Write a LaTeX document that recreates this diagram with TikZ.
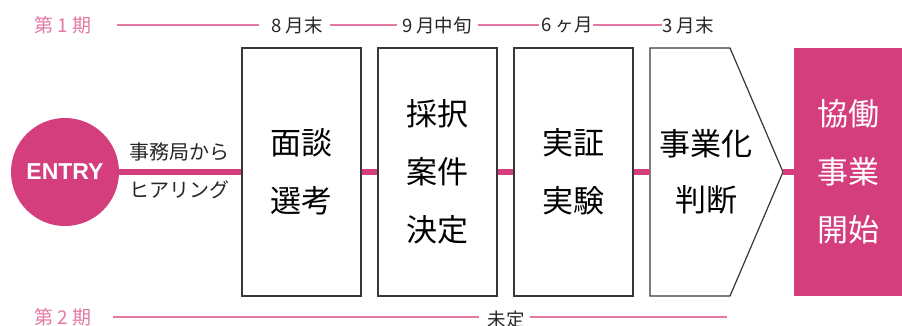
\documentclass[tikz,border=0pt]{standalone}
\usepackage{fontspec}
\setmainfont{Liberation Serif}
\newfontfamily\jp{Noto Sans CJK JP}
\newfontfamily\en{Liberation Sans}
\definecolor{pk}{RGB}{213,62,125}
\definecolor{pkl}{RGB}{228,120,165}
\definecolor{bx}{RGB}{55,55,55}
\begin{document}
\begin{tikzpicture}[x=1pt,y=-1pt,
  stage/.style={draw=bx, line width=1.2pt, minimum width=119pt, minimum height=248pt,
    inner sep=0pt, align=center, font=\jp\fontsize{31}{58}\selectfont},
  link/.style={pk, line width=6pt},
  tline/.style={pkl, line width=1.3pt},
  tlabel/.style={inner sep=0pt, font=\jp\fontsize{18.5}{20}\selectfont, text=black!85},
  plabel/.style={inner sep=0pt, font=\jp\fontsize{19}{20}\selectfont, text=pkl},
  small/.style={inner sep=0pt, font=\jp\fontsize{20}{22}\selectfont, text=black!85}]
\useasboundingbox (0,0) rectangle (902,325);
% top timeline
\node[plabel] (p1) at (63,25) {第 1 期};
\coordinate (p1s) at (117,25);
\node[tlabel] (m1) at (297,25) {8 月末};
\node[tlabel] (m2) at (437,25) {9 月中旬};
\node[tlabel] (m3) at (567,25) {6 ヶ月};
\node[tlabel] (m4) at (688,25) {3 月末};
\draw[tline] (p1s) -- ([xshift=-12pt]m1.west);
\draw[tline] ([xshift=7pt]m1.east) -- ([xshift=-5pt]m2.west);
\draw[tline] ([xshift=6pt]m2.east) -- ([xshift=-2pt]m3.west);
\draw[tline] (m3.east) -- (m4.west);
% bottom timeline
\node[plabel] (p2) at (63,317) {第 2 期};
\coordinate (p2s) at (113,317);
\node[tlabel] (u) at (506,320) {未定};
\coordinate (p2e) at (727,317);
\draw[tline] (p2s) -- ([xshift=-8pt]u.west |- p2s);
\draw[tline] ([xshift=5pt]u.east |- p2s) -- (p2e);
% entry
\node[circle, fill=pk, minimum size=108pt, inner sep=0pt, text=white,
  font=\en\bfseries\fontsize{23}{26}\selectfont] (entry) at (65,172) {ENTRY};
% stages
\node[stage] (s1) at (301.5,172) {面談\\選考};
\node[stage] (s2) at (437.5,172) {採択\\案件\\決定};
\node[stage] (s3) at (573.5,172) {実証\\実験};
\draw[bx, line width=1.2pt] (650,48) -- (730,48) -- (783,172) -- (730,296) -- (650,296) -- cycle;
\coordinate (s4w) at (650,172);
\coordinate (s4e) at (783,172);
\node[inner sep=0pt, align=center, font=\jp\fontsize{31}{56}\selectfont] (s4) at (706,172) {事業化\\判断};
\node[fill=pk, minimum width=108pt, minimum height=248pt, inner sep=0pt, align=center,
  text=white, font=\jp\fontsize{31}{58}\selectfont] (goal) at (848,172) {協働\\事業\\開始};
% connectors
\draw[link] (entry.east) -- (s1.west);
\draw[link] (s1.east) -- (s2.west);
\draw[link] (s2.east) -- (s3.west);
\draw[link] (s3.east) -- (s4w);
\draw[link] (s4e) -- (goal.west);
% hearing labels
\node[small] (h1) at (179,152) {事務局から};
\node[small] (h2) at (179,190) {ヒアリング};
\end{tikzpicture}
\end{document}
